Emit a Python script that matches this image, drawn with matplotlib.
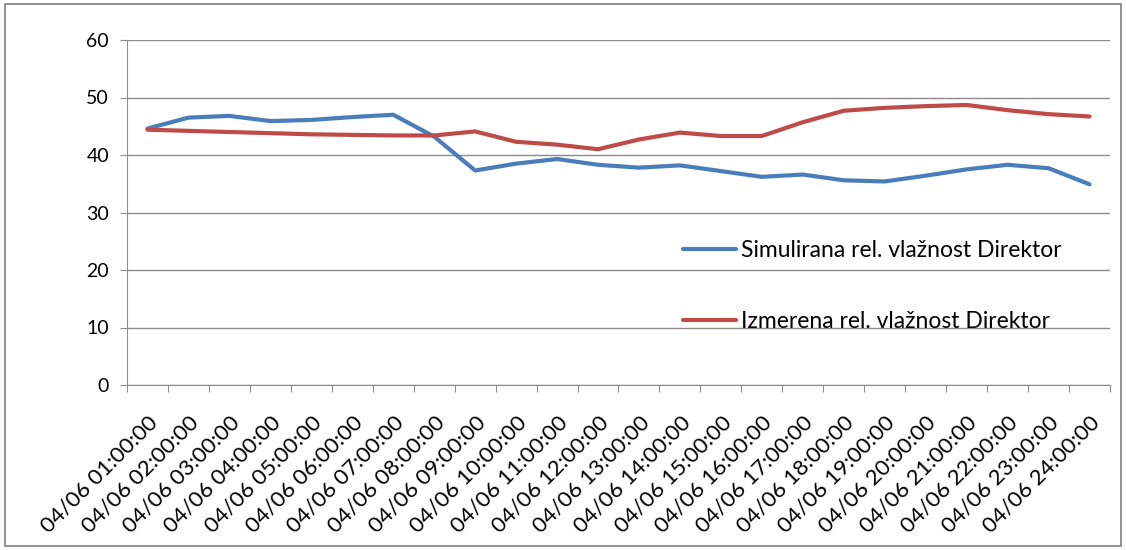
import matplotlib
matplotlib.use("Agg")
import matplotlib.pyplot as plt
from matplotlib.patches import Rectangle
from matplotlib.transforms import ScaledTranslation

categories = ["04/06 %02d:00:00" % h for h in range(1, 25)]
simulirana = [44.6, 46.5, 46.8, 45.9, 46.1, 46.6, 47.0, 43.2, 37.3, 38.5, 39.3, 38.3,
              37.8, 38.2, 37.2, 36.2, 36.6, 35.6, 35.4, 36.4, 37.5, 38.3, 37.7, 34.9]
izmerena = [44.4, 44.2, 44.0, 43.8, 43.6, 43.5, 43.4, 43.4, 44.1, 42.3, 41.8, 41.0,
            42.7, 43.9, 43.3, 43.3, 45.7, 47.7, 48.2, 48.5, 48.7, 47.8, 47.1, 46.7]
series_names = ["Simulirana rel. vlažnost Direktor", "Izmerena rel. vlažnost Direktor"]
yticks = [0, 10, 20, 30, 40, 50, 60]

plt.rcParams['font.family'] = ['Lato', 'DejaVu Sans']

fig = plt.figure(figsize=(11.26, 5.5), dpi=100)
ax = fig.add_axes([127/1126, 1-385/550, (1110-127)/1126, (385-40)/550])

x = list(range(len(categories)))
l1, = ax.plot(x, simulirana, color="#4A7EBB", lw=3, solid_capstyle="round")
l2, = ax.plot(x, izmerena, color="#BE4B48", lw=3, solid_capstyle="round")

ax.set_xlim(-0.5, len(categories) - 0.5)
ax.set_ylim(0, 60)
ax.set_yticks(yticks)
ax.set_yticklabels([str(v) for v in yticks], fontsize=14)
ax.yaxis.grid(True, color="#8C8C8C", lw=1)
ax.set_axisbelow(True)

ax.set_xticks([i - 0.5 for i in range(len(categories) + 1)])
ax.set_xticklabels([])
ax.set_xticks(x, minor=True)
ax.set_xticklabels(categories, minor=True, rotation=45, ha="right", va="top",
                   rotation_mode="anchor", fontsize=16)
ax.tick_params(axis="x", which="minor", length=0, pad=10)
ax.tick_params(axis="x", which="major", length=5, color="#8C8C8C")
ax.tick_params(axis="y", length=5, color="#8C8C8C", pad=8)
off = ScaledTranslation(0/100, -13/100, fig.dpi_scale_trans)
for lab in ax.get_xticklabels(minor=True):
    lab.set_transform(lab.get_transform() + off)

for s in ["top", "right"]:
    ax.spines[s].set_visible(False)
for s in ["left", "bottom"]:
    ax.spines[s].set_color("#8C8C8C")

ax.legend([l1, l2], series_names, loc="upper left", bbox_to_anchor=(0.545, 0.48),
          frameon=False, fontsize=16.5, handlelength=2.3, handletextpad=0.2,
          labelspacing=2.2)

fig.patches.append(Rectangle((5/1126, 4/550), 1 - 10/1126, 1 - 8/550,
                             transform=fig.transFigure, fill=False,
                             edgecolor="#7F7F7F", lw=1.2))

fig.savefig("out.png", dpi=100)
